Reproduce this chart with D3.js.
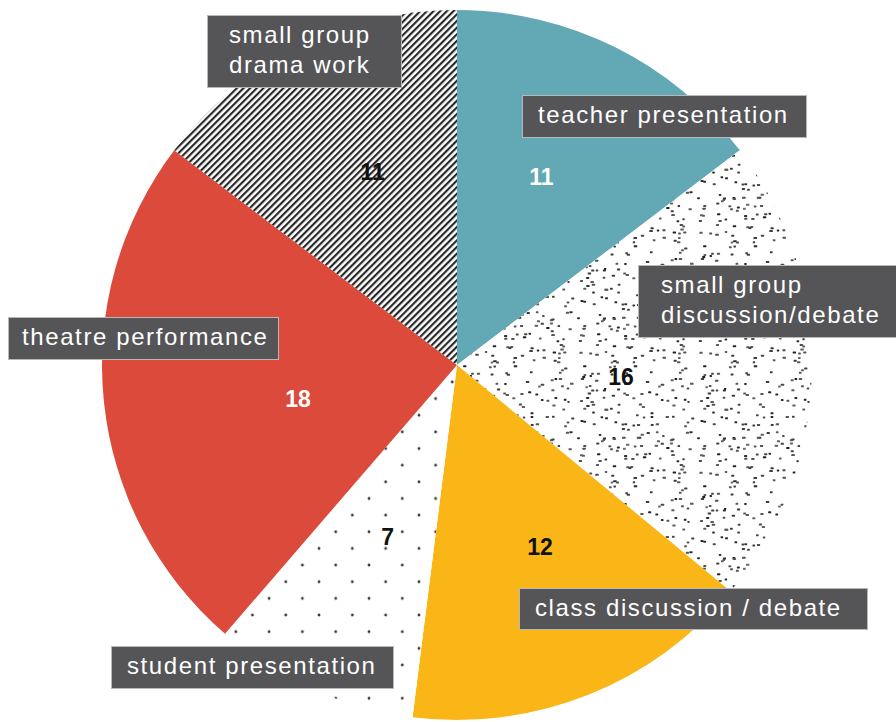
<!DOCTYPE html>
<head>
  <meta charset="utf-8">
  <script src="https://d3js.org/d3.v7.min.js"></script>
  <style>
    body { margin: 0; background: #fff; }
    .box { fill: #555558; stroke: #b8b8b8; stroke-width: 1; }
    .name {
      fill: #fff;
      font: 24px "Liberation Sans", Arial, sans-serif;
      letter-spacing: 1.6px;
    }
    .value {
      font: bold 23px "Liberation Sans", Arial, sans-serif;
    }
  </style>
</head>
<body>
<script>

  // chart values, clockwise from 12 o'clock
  var categories = ["teacher presentation", "small group\ndiscussion/debate", "class discussion / debate",
                    "student presentation", "theatre performance", "small group\ndrama work"];
  var values = [11, 16, 12, 7, 18, 11];

  // fills: plain colours or pattern ids
  var fills = ["#62a8b5", "url(#noise)", "#fab616", "url(#sparse)", "#db4a3a", "url(#stripes)"];
  var valueColors = ["#fff", "#111", "#111", "#111", "#fff", "#111"];

  // where each name box sits (left, top, width, height, text padding)
  var boxes = [
    [522, 95, 284, 42, 16],
    [638, 265, 258, 72, 23],
    [519, 588, 348, 41, 16],
    [111, 646, 282, 42, 16],
    [8, 317, 270, 42, 14],
    [207, 15, 194, 72, 22]
  ];
  // small nudges of the value labels off the centroid
  var nudges = [[0, -18], [-26, 8], [13, 5], [8, -2], [30, 14], [0, -23]];

  var width = 896, height = 722;
  var cx = 457, cy = 365, radius = 355;

  var svg = d3.select("body").append("svg")
      .attr("width", width)
      .attr("height", height);

  var defs = svg.append("defs");

  // diagonal stripes
  var p = 4.7;
  var stripes = defs.append("pattern")
      .attr("id", "stripes")
      .attr("patternUnits", "userSpaceOnUse")
      .attr("width", p).attr("height", p)
      .attr("patternTransform", "rotate(45)");
  stripes.append("rect").attr("width", p).attr("height", p).attr("fill", "#fff");
  stripes.append("line")
      .attr("x1", 1.1).attr("y1", 0).attr("x2", 1.1).attr("y2", p)
      .attr("stroke", "#222").attr("stroke-width", 2.1);

  // sparse diamond grid of dots
  var s = 33.3;
  var sparse = defs.append("pattern")
      .attr("id", "sparse")
      .attr("patternUnits", "userSpaceOnUse")
      .attr("x", 11.9).attr("y", 0.3)
      .attr("width", s).attr("height", s);
  sparse.append("rect").attr("width", s).attr("height", s).attr("fill", "#fff");
  [[0, 0], [s, 0], [0, s], [s, s], [s / 2, s / 2]].forEach(function(q) {
    sparse.append("circle").attr("cx", q[0]).attr("cy", q[1]).attr("r", 1.4).attr("fill", "#333");
  });

  // speckle texture (seeded, so it's the same every run)
  var seed = 7;
  function rnd() { seed = (seed * 16807) % 2147483647; return seed / 2147483647; }
  var t = 120;
  var noise = defs.append("pattern")
      .attr("id", "noise")
      .attr("patternUnits", "userSpaceOnUse")
      .attr("width", t).attr("height", t);
  noise.append("rect").attr("width", t).attr("height", t).attr("fill", "#fff");
  for (var i = 0; i < 175; i++) {
    var c = 30 + Math.floor(rnd() * 70);
    noise.append("rect")
        .attr("x", rnd() * (t - 4)).attr("y", rnd() * (t - 3))
        .attr("width", 2.4 + rnd() * 1.2).attr("height", 2)
        .attr("rx", 0.6)
        .attr("fill", "rgb(" + c + "," + c + "," + c + ")");
  }

  var pie = d3.pie().sort(null).value(function(d) { return d; });
  var arcs = pie(values);

  var arc = d3.arc().innerRadius(0).outerRadius(radius);
  var labelArc = d3.arc().innerRadius(190).outerRadius(190);

  var g = svg.append("g")
      .attr("transform", "translate(" + cx + "," + cy + ")");

  g.selectAll(".slice")
      .data(arcs)
    .enter().append("path")
      .attr("class", "slice")
      .attr("d", arc)
      .attr("fill", function(d, i) { return fills[i]; });

  g.selectAll(".value")
      .data(arcs)
    .enter().append("text")
      .attr("class", "value")
      .attr("text-anchor", "middle")
      .attr("dy", "0.35em")
      .attr("x", function(d, i) { return labelArc.centroid(d)[0] + nudges[i][0]; })
      .attr("y", function(d, i) { return labelArc.centroid(d)[1] + nudges[i][1]; })
      .attr("fill", function(d, i) { return valueColors[i]; })
      .text(function(d) { return d.value; });

  // name boxes
  var names = svg.selectAll(".label")
      .data(categories)
    .enter().append("g")
      .attr("class", "label");

  names.append("rect")
      .attr("class", "box")
      .attr("x", function(d, i) { return boxes[i][0] + 0.5; })
      .attr("y", function(d, i) { return boxes[i][1] + 0.5; })
      .attr("width", function(d, i) { return boxes[i][2]; })
      .attr("height", function(d, i) { return boxes[i][3]; });

  names.each(function(d, i) {
    var b = boxes[i];
    d3.select(this).selectAll("text")
        .data(d.split("\n"))
      .enter().append("text")
        .attr("class", "name")
        .attr("x", b[0] + b[4])
        .attr("y", function(line, j) { return b[1] + 28 + j * 30; })
        .text(function(line) { return line; });
  });

</script>
</body>
